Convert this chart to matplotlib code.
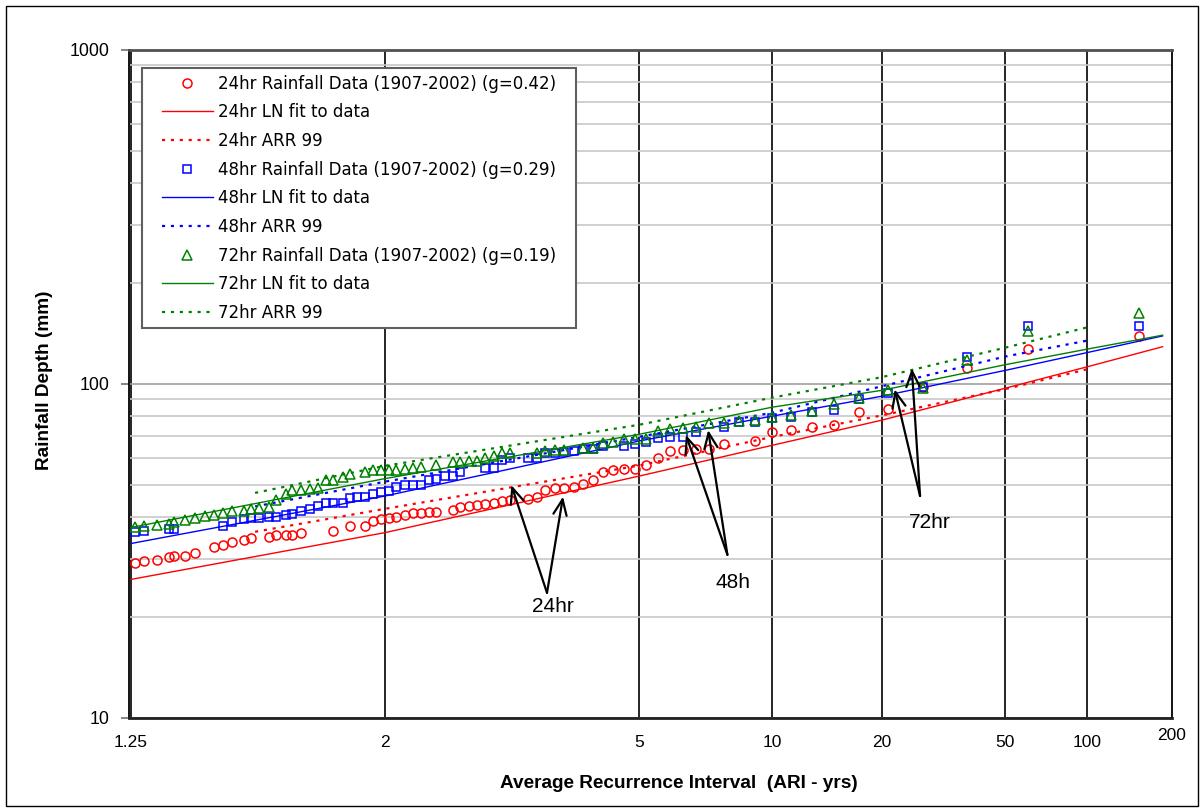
from statistics import NormalDist

import numpy as np
import matplotlib
matplotlib.use("Agg")
import matplotlib.pyplot as plt
from matplotlib.patches import Rectangle
from matplotlib.ticker import (FixedLocator, NullLocator, LogLocator, NullFormatter,
                               FuncFormatter)

# ---- data --------------------------------------------------------------
RAIN24_ARI = [1.256, 1.27, 1.29, 1.31, 1.32, 1.34, 1.36, 1.40, 1.42, 1.44, 1.47, 1.49,
              1.54, 1.56, 1.59, 1.61, 1.64, 1.76, 1.83, 1.90, 1.94, 1.98, 2.02, 2.06,
              2.11, 2.16, 2.21, 2.26, 2.31, 2.43, 2.49, 2.56, 2.63, 2.70, 2.78, 2.86,
              2.95, 3.14, 3.25, 3.36, 3.49, 3.62, 3.76, 3.91, 4.08, 4.26, 4.45, 4.67,
              4.91, 5.17, 5.47, 5.80, 6.17, 6.59, 7.07, 7.64, 9.08, 10.0, 11.2, 12.7,
              14.6, 17.2, 20.9, 26.7, 37.0, 60.1, 160]
RAIN24_MM = [29.2, 29.5, 29.8, 30.3, 30.5, 30.5, 31.1, 32.6, 33.0, 33.6, 34.1, 34.5,
             34.9, 35.4, 35.4, 35.4, 35.8, 36.2, 37.6, 37.6, 38.9, 39.3, 39.6, 40.0,
             40.5, 41.0, 41.1, 41.4, 41.4, 42.0, 42.8, 43.2, 43.5, 43.7, 44.1, 44.6,
             45.1, 45.3, 46.0, 48.2, 48.9, 48.9, 49.3, 50.2, 51.6, 54.7, 55.1, 55.6,
             55.6, 57.3, 60.0, 62.8, 63.5, 64.1, 64.1, 66.2, 67.7, 71.7, 72.8, 74.1,
             75.3, 82.7, 84.1, 98.2, 111.9, 127.2, 139.3]

RAIN48_ARI = [1.256, 1.27, 1.31, 1.32, 1.42, 1.44, 1.47, 1.49, 1.51, 1.54, 1.56, 1.59,
              1.61, 1.64, 1.67, 1.70, 1.73, 1.76, 1.80, 1.83, 1.86, 1.90, 1.94, 1.98,
              2.02, 2.06, 2.11, 2.16, 2.21, 2.26, 2.31, 2.37, 2.43, 2.49, 2.70, 2.78,
              2.86, 2.95, 3.14, 3.25, 3.36, 3.49, 3.62, 3.76, 3.91, 4.08, 4.26, 4.67,
              4.91, 5.17, 5.47, 5.80, 6.17, 6.59, 7.64, 8.29, 9.08, 10.0, 11.2, 12.7,
              14.6, 17.2, 20.9, 26.7, 37.0, 60.1, 160]
RAIN48_MM = [36.1, 36.3, 36.7, 36.9, 37.5, 38.5, 39.3, 39.6, 39.8, 39.9, 40.0, 40.5,
             40.9, 41.6, 42.3, 43.0, 44.0, 44.0, 44.0, 45.6, 45.8, 46.0, 47.0, 47.4,
             47.9, 49.1, 49.7, 49.9, 49.9, 51.6, 52.0, 53.2, 53.2, 54.6, 56.0, 56.0,
             59.4, 60.0, 60.0, 60.0, 62.1, 62.3, 62.7, 63.1, 64.1, 64.1, 65.1, 65.1,
             66.3, 67.1, 69.0, 69.2, 69.5, 71.9, 74.4, 76.9, 76.9, 78.9, 79.8, 82.6,
             83.5, 90.0, 93.7, 98.2, 120.8, 149.2, 149.2]

RAIN72_ARI = [1.256, 1.27, 1.29, 1.31, 1.32, 1.34, 1.36, 1.38, 1.40, 1.42, 1.44, 1.47,
              1.49, 1.51, 1.54, 1.56, 1.59, 1.61, 1.64, 1.67, 1.70, 1.73, 1.76, 1.80,
              1.83, 1.90, 1.94, 1.98, 2.02, 2.06, 2.11, 2.16, 2.21, 2.31, 2.43, 2.49,
              2.56, 2.63, 2.70, 2.78, 2.86, 2.95, 3.25, 3.36, 3.49, 3.62, 3.91, 4.08,
              4.26, 4.45, 4.67, 4.91, 5.17, 5.47, 5.80, 6.17, 6.59, 7.07, 7.64, 8.29,
              9.08, 10.0, 11.2, 12.7, 14.6, 17.2, 20.9, 26.7, 37.0, 60.1, 160]
RAIN72_MM = [37.2, 37.5, 37.8, 38.2, 38.6, 39.1, 39.7, 40.2, 40.5, 41.0, 41.6, 41.8,
             42.2, 42.5, 42.8, 44.8, 46.7, 48.2, 48.2, 48.5, 48.7, 51.6, 51.6, 52.6,
             53.8, 54.6, 55.1, 55.1, 55.4, 55.4, 55.6, 56.0, 56.4, 57.2, 58.6, 58.6,
             59.0, 59.0, 60.0, 60.7, 62.1, 62.1, 62.3, 63.0, 63.5, 63.5, 64.5, 64.5,
             66.6, 67.1, 68.3, 68.3, 68.3, 72.3, 73.2, 73.7, 74.2, 76.3, 76.3, 77.5,
             78.0, 79.4, 80.7, 83.2, 87.1, 90.6, 96.0, 97.1, 118.0, 144.5, 162.8]

# lognormal fits to the data
FIT_ARI = [1.25, 2, 5, 10, 20, 50, 100, 200]
FIT24 = [26.0, 35.9, 53.0, 65.5, 77.9, 97.1, 112.6, 129.3]
FIT48 = [33.3, 46.2, 67.5, 80.1, 91.9, 109.8, 124.2, 139.3]
FIT72 = [37.2, 52.1, 70.7, 85.2, 95.7, 114.2, 127.2, 140.0]

# ARR 99 design depths
ARR_ARI = [1.5, 2, 5, 10, 20, 50, 100]
ARR24 = [36.1, 42.3, 57.0, 69.4, 80.5, 96.5, 110.7]
ARR48 = [43.0, 51.0, 69.5, 82.0, 98.4, 120.8, 134.9]
ARR72 = [47.2, 56.9, 75.5, 91.0, 104.8, 128.4, 147.8]

X_TICKS = [1.25, 2, 5, 10, 20, 50, 100]
X_LIMITS = (1.247, 219)

# ---- normal probability scale for ARI ------------------------------------
ND = NormalDist()


def ari_to_z(t):
    t = np.atleast_1d(np.asarray(t, dtype=float))
    out = np.full(t.shape, np.nan)
    ok = np.isfinite(t) & (t > 1.0) & (t < 1e12)
    out[ok] = [ND.inv_cdf(1.0 - 1.0 / v) for v in t[ok]]
    return out


def z_to_ari(z):
    z = np.atleast_1d(np.asarray(z, dtype=float))
    out = np.full(z.shape, np.nan)
    ok = np.isfinite(z) & (z < 8)
    out[ok] = [1.0 / (1.0 - ND.cdf(v)) for v in z[ok]]
    return out


plt.rcParams["font.family"] = ["Liberation Sans", "DejaVu Sans"]

fig = plt.figure(figsize=(12.03, 8.08), dpi=100)
fig.patches.append(Rectangle((6 / 1203, 2 / 808), 1192 / 1203, 800 / 808,
                             transform=fig.transFigure, fill=False,
                             edgecolor="black", linewidth=1.0))
ax = fig.add_axes([129 / 1203, 90 / 808, 1043 / 1203, 668 / 808])
ax.set_xscale("function", functions=(ari_to_z, z_to_ari))
ax.set_yscale("log")
ax.set_xlim(*X_LIMITS)
ax.set_ylim(10, 1000)

# grid
ax.yaxis.set_major_locator(LogLocator(base=10, numticks=5))
ax.yaxis.set_major_formatter(FuncFormatter(lambda v, p: f"{v:g}"))
ax.yaxis.set_minor_locator(LogLocator(base=10, subs=np.arange(2, 10), numticks=20))
ax.yaxis.set_minor_formatter(NullFormatter())
ax.grid(axis="y", which="minor", color="#c8c8c8", linewidth=1.2)
ax.grid(axis="y", which="major", color="#a0a0a0", linewidth=1.2)
ax.xaxis.set_major_locator(FixedLocator(X_TICKS))
ax.xaxis.set_minor_locator(NullLocator())
ax.set_xticklabels(["1.25", "2", "5", "10", "20", "50", "100"])
ax.grid(axis="x", which="major", color="black", linewidth=1.2)
ax.set_axisbelow(True)

ax.tick_params(axis="y", which="major", length=6, width=1.2, color="#707070",
               pad=8, labelsize=12.8)
ax.tick_params(axis="y", which="minor", length=0)
ax.tick_params(axis="x", length=0, pad=12, labelsize=12.5)
ax.text(1.0, -0.026, "200", transform=ax.transAxes, ha="center", va="center",
        fontsize=12.5)

for side, col, lw in [("top", "#505050", 2.0), ("bottom", "#202020", 2.0),
                      ("left", "black", 1.3), ("right", "black", 1.3)]:
    ax.spines[side].set_color(col)
    ax.spines[side].set_linewidth(lw)

# series
dots = (0, (1.4, 2.6))
ax.plot(RAIN24_ARI, RAIN24_MM, "o", ms=6.5, mfc="none", mec="#ff0000", mew=1.1,
        label="24hr Rainfall Data (1907-2002) (g=0.42)")
ax.plot(FIT_ARI, FIT24, "-", color="#ff0000", lw=1.0, label="24hr LN fit to data")
ax.plot(ARR_ARI, ARR24, linestyle=dots, color="#ff0000", lw=1.6, label="24hr ARR 99")
ax.plot(RAIN48_ARI, RAIN48_MM, "s", ms=6, mfc="none", mec="#0000ff", mew=1.1,
        label="48hr Rainfall Data (1907-2002) (g=0.29)")
ax.plot(FIT_ARI, FIT48, "-", color="#0000ff", lw=1.0, label="48hr LN fit to data")
ax.plot(ARR_ARI, ARR48, linestyle=dots, color="#0000ff", lw=1.6, label="48hr ARR 99")
ax.plot(RAIN72_ARI, RAIN72_MM, "^", ms=6.5, mfc="none", mec="#008000", mew=1.1,
        label="72hr Rainfall Data (1907-2002) (g=0.19)")
ax.plot(FIT_ARI, FIT72, "-", color="#008000", lw=1.0, label="72hr LN fit to data")
ax.plot(ARR_ARI, ARR72, linestyle=dots, color="#008000", lw=1.6, label="72hr ARR 99")

# legend: frame drawn separately so the padding matches the original box
ax.add_patch(Rectangle((0.0122, 0.5834), 0.4161, 0.3892, transform=ax.transAxes,
                       facecolor="white", edgecolor="#606060", linewidth=1.5,
                       zorder=4.5))
leg = ax.legend(loc="upper left", bbox_to_anchor=(0.0313, 0.9632), borderaxespad=0,
                prop={"family": "DejaVu Sans", "size": 12}, frameon=False,
                handlelength=3.1, handletextpad=0.26, labelspacing=0.64,
                borderpad=0)
leg.set_zorder(5)

# labels
ax.set_ylabel("Rainfall Depth (mm)", fontsize=13.7, fontweight="bold")
ax.yaxis.set_label_coords(-0.073, 0.506)
ax.set_xlabel("Average Recurrence Interval  (ARI - yrs)", fontsize=13.7,
              fontweight="bold")
ax.xaxis.set_label_coords(0.527, -0.085)

# arrows to the curves
arrow = dict(arrowstyle="->,head_length=0.7,head_width=0.3", color="black",
             lw=1.6, shrinkA=0, shrinkB=0, mutation_scale=16)
for base, tips, txt, txt_xy in [
        ((3.38, 23.7), [(2.96, 49.8), (3.60, 46.0)], "24hr", (3.46, 21.6)),
        ((7.79, 30.8), [(6.27, 70.4), (7.03, 72.8)], "48h", (8.03, 25.5)),
        ((26.2, 46.2), [(21.9, 96.4), (24.7, 111.4)], "72hr", (28.2, 38.4))]:
    for tip in tips:
        ax.annotate("", xy=tip, xytext=base, arrowprops=arrow)
    ax.text(*txt_xy, txt, ha="center", va="center", fontsize=15)

fig.savefig("out.png", dpi=100)
